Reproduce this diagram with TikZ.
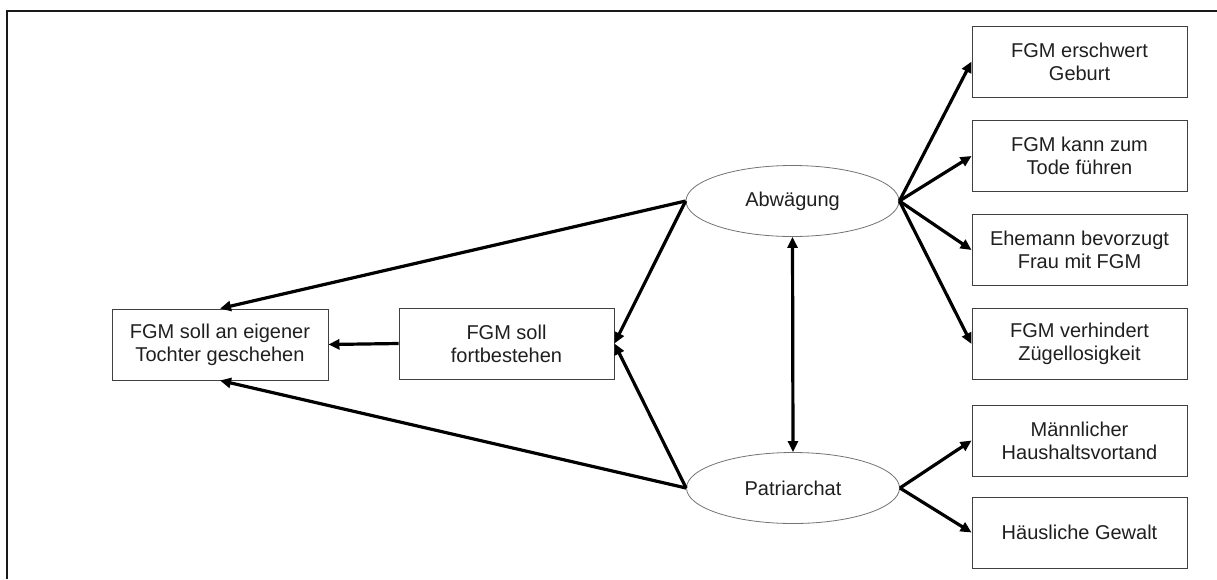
\documentclass[tikz,border=0pt]{standalone}
\usepackage{fontspec}
\setmainfont{Liberation Sans}
\usetikzlibrary{arrows.meta,shapes.geometric}
\begin{document}
\begin{tikzpicture}[x=1pt,y=-1pt,
  txt/.style={font=\fontsize{20}{22.7}\selectfont, text=black!88},
  box/.style={txt, draw=black!75, line width=0.9pt, minimum width=215pt, minimum height=71pt, inner sep=0pt, align=center},
  ell/.style={txt, ellipse, draw=black!55, line width=0.8pt, minimum width=213pt, minimum height=71pt, inner sep=0pt},
  arr/.style={line width=3.2pt, -{Triangle[length=11pt,width=10pt]}},
  darr/.style={line width=3.2pt, {Triangle[length=11pt,width=10pt]}-{Triangle[length=11pt,width=10pt]}},
  frame/.style={line width=2.2pt, black!90}]
\useasboundingbox (0,0) rectangle (1217,579);
\draw[frame] (7,579) -- (7,11) -- (1217,11);

\node[box, minimum width=216pt] (A) at (220,344.5) {FGM soll an eigener\\Tochter geschehen};
\node[box] (B) at (506.5,343.5) {FGM soll\\fortbestehen};
\node[ell] (abw) at (792.5,201) {Abwägung};
\node[ell] (pat) at (793,488) {Patriarchat};

\node[box] (r1) at (1079.5,61.5) {FGM erschwert\\Geburt};
\node[box] (r2) at (1079.5,156) {FGM kann zum\\Tode führen};
\node[box] (r3) at (1079.5,250) {Ehemann bevorzugt\\Frau mit FGM};
\node[box] (r4) at (1079.5,344) {FGM verhindert\\Zügellosigkeit};
\node[box] (r5) at (1079.5,440.5) {Männlicher\\Haushaltsvortand};
\node[box] (r6) at (1079.5,532.5) {Häusliche Gewalt};

\draw[arr] (abw.west) -- (A.north);
\draw[arr] (pat.west) -- (A.south);
\draw[arr] (B.west) -- (A.east);
\draw[arr] (abw.west) -- (B.east);
\draw[arr] (pat.west) -- (B.east);
\draw[darr] (abw.south) -- (pat.north);

\draw[arr] (abw.east) -- (r1.west);
\draw[arr] (abw.east) -- (r2.west);
\draw[arr] (abw.east) -- (r3.west);
\draw[arr] (abw.east) -- (r4.west);
\draw[arr] (pat.east) -- (r5.west);
\draw[arr] (pat.east) -- (r6.west);
\end{tikzpicture}
\end{document}
